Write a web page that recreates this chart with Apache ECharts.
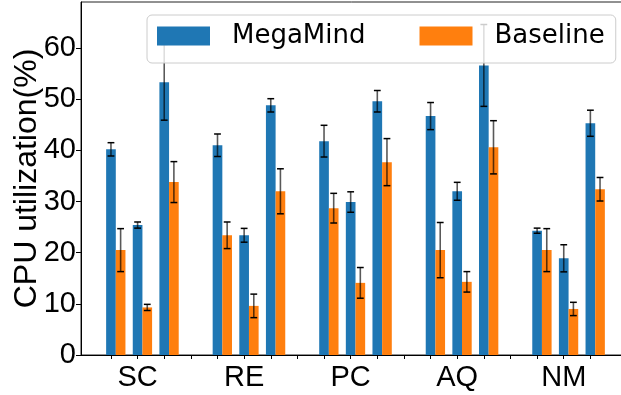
<!DOCTYPE html>
<html>
<head>
<meta charset="utf-8">
<script src="https://cdn.jsdelivr.net/npm/echarts@6/dist/echarts.min.js"></script>
<style>
html,body{margin:0;padding:0;background:#fff;}
#chart{width:621px;height:395px;}
</style>
</head>
<body>
<div id="chart"></div>
<script>
// ---- data ----
const categories = ['SC', 'RE', 'PC', 'AQ', 'NM'];
const seriesNames = ['MegaMind', 'Baseline'];
// three bar pairs per category, in order
const megamind    = [40.2, 25.4, 53.3,  41.0, 23.4, 48.8,  41.8, 29.9, 49.6,  46.7, 32.0, 56.6,  24.3, 18.9, 45.3];
const megamindErr = [1.3, 0.6, 7.4,  2.2, 1.35, 1.3,  3.1, 2.0, 2.1,  2.65, 1.75, 8.0,  0.5, 2.65, 2.55];
const baseline    = [20.5, 9.3, 33.8,  23.4, 9.6, 32.0,  28.7, 14.1, 37.7,  20.5, 14.3, 40.6,  20.5, 9.0, 32.4];
const baselineErr = [4.2, 0.6, 4.0,  2.6, 2.3, 4.4,  2.9, 3.0, 4.6,  5.4, 2.0, 5.2,  4.2, 1.3, 2.3];
const yTicks = [0, 10, 20, 30, 40, 50, 60];

// ---- layout helpers ----
const pairsPerGroup = 3;
const slotsPerGroup = 4;
const barW = 0.3625;          // bar width in axis units
const barPx = 9.67;
const xPos = [];
categories.forEach((c, g) => { for (let j = 0; j < pairsPerGroup; j++) xPos.push(g * slotsPerGroup + j); });
const tickVals = [];
for (let i = 0; i < categories.length * slotsPerGroup - 1; i++) tickVals.push(i);
const labelVals = categories.map((c, g) => g * slotsPerGroup + 1);

const blueData = xPos.map((x, i) => [x, megamind[i]]);
const orangeData = xPos.map((x, i) => [x + barW, baseline[i]]);
const blueErr = xPos.map((x, i) => [x, megamind[i] - megamindErr[i], megamind[i] + megamindErr[i]]);
const orangeErr = xPos.map((x, i) => [x + barW, baseline[i] - baselineErr[i], baseline[i] + baselineErr[i]]);

function errRender(params, api) {
  const x = api.value(0);
  const lo = api.coord([x, api.value(1)]);
  const hi = api.coord([x, api.value(2)]);
  const c = 3.4;
  return {
    type: 'group',
    children: [
      { type: 'line', shape: { x1: hi[0], y1: hi[1], x2: lo[0], y2: lo[1] }, style: { stroke: 'rgba(0,0,0,0.65)', lineWidth: 1.6 } },
      { type: 'line', shape: { x1: hi[0] - c, y1: hi[1], x2: hi[0] + c, y2: hi[1] }, style: { stroke: '#000', lineWidth: 1.5 } },
      { type: 'line', shape: { x1: lo[0] - c, y1: lo[1], x2: lo[0] + c, y2: lo[1] }, style: { stroke: '#000', lineWidth: 1.5 } }
    ]
  };
}

const chart = echarts.init(document.getElementById('chart'), null, { renderer: 'canvas' });
chart.setOption({
  animation: false,
  backgroundColor: '#fff',
  grid: { left: 81, top: 2, right: -4, bottom: 40, containLabel: false, outerBoundsMode: 'none',
          show: true, borderColor: '#222', borderWidth: 1, backgroundColor: 'transparent' },
  legend: {
    data: seriesNames,
    left: 147, top: 15,
    orient: 'horizontal',
    icon: 'rect',
    itemWidth: 53, itemHeight: 19,
    itemGap: 54,
    padding: [8, 11, 14, 10],
    backgroundColor: 'rgba(255,255,255,0.8)',
    borderColor: '#cccccc',
    borderWidth: 1,
    borderRadius: 5,
    textStyle: { fontSize: 26, fontFamily: 'DejaVu Sans', color: '#000', padding: [0, 0, 0, 17] }
  },
  xAxis: {
    type: 'value',
    min: -1.125,
    max: 19.3,
    splitLine: { show: false },
    axisLine: { show: true, onZero: false, lineStyle: { color: '#000', width: 1 } },
    axisTick: { show: true, length: 4, customValues: tickVals, lineStyle: { color: '#000' } },
    axisLabel: {
      show: true, customValues: labelVals, fontSize: 29, fontFamily: 'Liberation Sans', color: '#000', margin: 8,
      formatter: v => { const g = Math.round((v - 1) / slotsPerGroup); return categories[g] || ''; }
    }
  },
  yAxis: {
    type: 'value',
    min: 0, max: 69,
    splitLine: { show: false },
    axisLine: { show: true, onZero: false, lineStyle: { color: '#000', width: 1 } },
    axisTick: { show: true, length: 5, customValues: yTicks, lineStyle: { color: '#000' } },
    axisLabel: { customValues: yTicks, fontSize: 29, fontFamily: 'Liberation Sans', color: '#000', margin: 5 },
    name: 'CPU utilization(%)',
    nameLocation: 'middle',
    nameMoveOverlap: false,
    nameGap: 38,
    nameTextStyle: { fontSize: 32, fontFamily: 'Liberation Sans', color: '#000' }
  },
  series: [
    { name: seriesNames[0], type: 'bar', data: blueData, barWidth: barPx, barGap: '-100%', itemStyle: { color: '#1f77b4' } },
    { name: seriesNames[1], type: 'bar', data: orangeData, barWidth: barPx, barGap: '-100%', itemStyle: { color: '#ff7f0e' } },
    { name: 'MegaMind err', type: 'custom', data: blueErr, renderItem: errRender, z: 3, encode: { x: 0, y: [1, 2] } },
    { name: 'Baseline err', type: 'custom', data: orangeErr, renderItem: errRender, z: 3, encode: { x: 0, y: [1, 2] } }
  ]
});
</script>
</body>
</html>
